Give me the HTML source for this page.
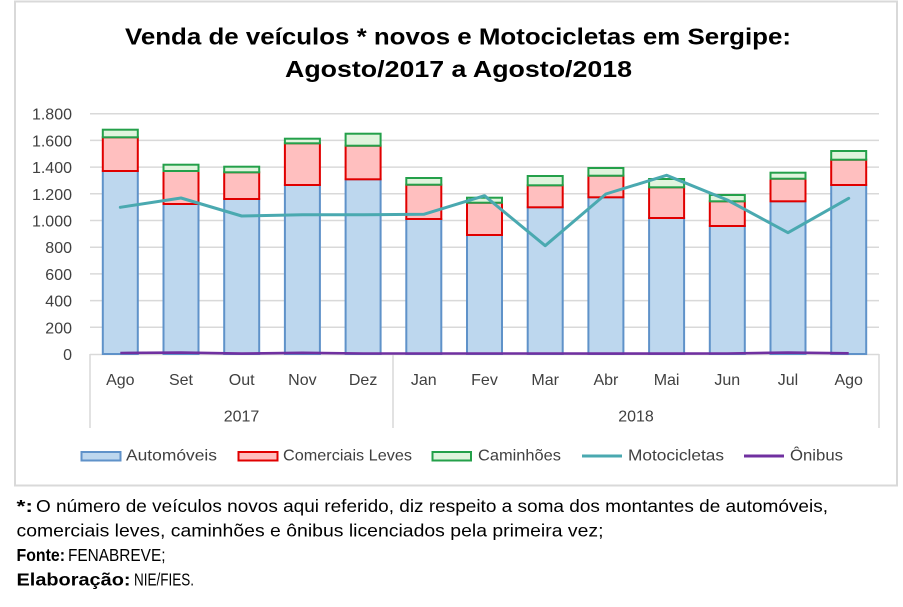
<!DOCTYPE html>
<html><head><meta charset="utf-8"><style>
html,body{margin:0;padding:0;background:#fff;}
svg{display:block;}
text{font-family:"Liberation Sans",sans-serif;}
</style></head><body>
<svg width="903" height="607" viewBox="0 0 903 607" xmlns="http://www.w3.org/2000/svg">
<rect x="0" y="0" width="903" height="607" fill="#fff"/>
<rect x="15" y="1.5" width="882" height="484" fill="#fff" stroke="#d9d9d9" stroke-width="2"/>
<text x="125" y="44.5" font-size="23" font-weight="bold" fill="#000" textLength="666" lengthAdjust="spacingAndGlyphs">Venda de veículos * novos e Motocicletas em Sergipe:</text>
<text x="285" y="77" font-size="23" font-weight="bold" fill="#000" textLength="347" lengthAdjust="spacingAndGlyphs">Agosto/2017 a Agosto/2018</text>
<g stroke="#d9d9d9" stroke-width="1.5">
<line x1="90" y1="113.7" x2="879" y2="113.7"/>
<line x1="90" y1="140.4" x2="879" y2="140.4"/>
<line x1="90" y1="167.1" x2="879" y2="167.1"/>
<line x1="90" y1="193.8" x2="879" y2="193.8"/>
<line x1="90" y1="220.5" x2="879" y2="220.5"/>
<line x1="90" y1="247.2" x2="879" y2="247.2"/>
<line x1="90" y1="273.9" x2="879" y2="273.9"/>
<line x1="90" y1="300.6" x2="879" y2="300.6"/>
<line x1="90" y1="327.3" x2="879" y2="327.3"/>
<line x1="90" y1="354.5" x2="879" y2="354.5"/>
<line x1="90" y1="354" x2="90" y2="428"/>
<line x1="393" y1="354" x2="393" y2="428"/>
<line x1="879" y1="354" x2="879" y2="428"/>
</g>
<g font-size="16" fill="#404040" text-anchor="end">
<text x="72" y="119.7">1.800</text>
<text x="72" y="146.4">1.600</text>
<text x="72" y="173.1">1.400</text>
<text x="72" y="199.8">1.200</text>
<text x="72" y="226.5">1.000</text>
<text x="72" y="253.2">800</text>
<text x="72" y="279.9">600</text>
<text x="72" y="306.6">400</text>
<text x="72" y="333.3">200</text>
<text x="72" y="360">0</text>
</g>
<g stroke-width="2">
<!-- bars: blue -->
<g fill="#bdd7ee" stroke="#5f92c9">
<rect x="102.8" y="171" width="35" height="183"/>
<rect x="163.5" y="204" width="35" height="150"/>
<rect x="224.2" y="199" width="35" height="155"/>
<rect x="284.9" y="185" width="35" height="169"/>
<rect x="345.6" y="179.3" width="35" height="174.7"/>
<rect x="406.3" y="219" width="35" height="135"/>
<rect x="467" y="235" width="35" height="119"/>
<rect x="527.7" y="207.3" width="35" height="146.7"/>
<rect x="588.4" y="197.3" width="35" height="156.7"/>
<rect x="649.1" y="218" width="35" height="136"/>
<rect x="709.8" y="226" width="35" height="128"/>
<rect x="770.5" y="201.3" width="35" height="152.7"/>
<rect x="831.2" y="185" width="35" height="169"/>
</g>
<g fill="#ffbfbf" stroke="#e00000">
<rect x="102.8" y="137.3" width="35" height="33.7"/>
<rect x="163.5" y="171" width="35" height="33"/>
<rect x="224.2" y="172.3" width="35" height="26.7"/>
<rect x="284.9" y="143.3" width="35" height="41.7"/>
<rect x="345.6" y="145.7" width="35" height="33.6"/>
<rect x="406.3" y="184.7" width="35" height="34.3"/>
<rect x="467" y="202.7" width="35" height="32.3"/>
<rect x="527.7" y="185.3" width="35" height="22"/>
<rect x="588.4" y="175.7" width="35" height="21.6"/>
<rect x="649.1" y="187.3" width="35" height="30.7"/>
<rect x="709.8" y="201.3" width="35" height="24.7"/>
<rect x="770.5" y="178.7" width="35" height="22.6"/>
<rect x="831.2" y="159.7" width="35" height="25.3"/>
</g>
<g fill="#e0f4dd" stroke="#24a04a">
<rect x="102.8" y="129.7" width="35" height="7.6"/>
<rect x="163.5" y="164.7" width="35" height="6.3"/>
<rect x="224.2" y="166.7" width="35" height="5.6"/>
<rect x="284.9" y="138.7" width="35" height="4.6"/>
<rect x="345.6" y="133.7" width="35" height="12"/>
<rect x="406.3" y="178" width="35" height="6.7"/>
<rect x="467" y="197.7" width="35" height="5"/>
<rect x="527.7" y="176" width="35" height="9.3"/>
<rect x="588.4" y="168" width="35" height="7.7"/>
<rect x="649.1" y="179" width="35" height="8.3"/>
<rect x="709.8" y="195" width="35" height="6.3"/>
<rect x="770.5" y="172.7" width="35" height="6"/>
<rect x="831.2" y="151" width="35" height="8.7"/>
</g>
</g>
<polyline fill="none" stroke="#4aa9b0" stroke-width="3" stroke-linejoin="round" stroke-linecap="round" points="120.3,207.3 181,198 241.7,216 302.4,214.7 363.1,214.7 423.8,214.3 484.5,195.7 545.2,245.7 605.9,194 666.6,175.3 727.3,200 788,232.7 848.7,198.3"/>
<polyline fill="none" stroke="#7030a0" stroke-width="2.6" stroke-linejoin="round" points="120.3,353 181,352.6 241.7,353.6 302.4,352.8 363.1,353.5 423.8,353.5 484.5,353.5 545.2,353.5 605.9,353.6 666.6,353.6 727.3,353.5 788,352.6 848.7,353.3"/>
<g font-size="16" fill="#404040" text-anchor="middle">
<text x="120.3" y="385">Ago</text>
<text x="181" y="385">Set</text>
<text x="241.7" y="385">Out</text>
<text x="302.4" y="385">Nov</text>
<text x="363.1" y="385">Dez</text>
<text x="423.8" y="385">Jan</text>
<text x="484.5" y="385">Fev</text>
<text x="545.2" y="385">Mar</text>
<text x="605.9" y="385">Abr</text>
<text x="666.6" y="385">Mai</text>
<text x="727.3" y="385">Jun</text>
<text x="788" y="385">Jul</text>
<text x="848.7" y="385">Ago</text>
<text x="241.5" y="421.5">2017</text>
<text x="636" y="421.5">2018</text>
</g>
<rect x="81.5" y="452" width="39" height="8.5" fill="#bdd7ee" stroke="#5f92c9" stroke-width="2"/>
<rect x="238.5" y="452" width="39" height="8.5" fill="#ffbfbf" stroke="#e00000" stroke-width="2"/>
<rect x="432.5" y="452" width="38.5" height="8.5" fill="#e0f4dd" stroke="#24a04a" stroke-width="2"/>
<line x1="582" y1="456" x2="622" y2="456" stroke="#4aa9b0" stroke-width="3"/>
<line x1="744" y1="456" x2="784" y2="456" stroke="#7030a0" stroke-width="3"/>
<g font-size="16" fill="#404040">
<text x="126" y="460.5" textLength="91" lengthAdjust="spacingAndGlyphs">Automóveis</text>
<text x="283" y="460.5" textLength="129" lengthAdjust="spacingAndGlyphs">Comerciais Leves</text>
<text x="478" y="460.5" textLength="83" lengthAdjust="spacingAndGlyphs">Caminhões</text>
<text x="628" y="460.5" textLength="96" lengthAdjust="spacingAndGlyphs">Motocicletas</text>
<text x="790" y="460.5" textLength="53" lengthAdjust="spacingAndGlyphs">Ônibus</text>
</g>
<g font-size="17.5" fill="#000">
<text x="16.5" y="512" font-weight="bold" textLength="16.5" lengthAdjust="spacingAndGlyphs">*:</text>
<text x="36" y="512" textLength="792" lengthAdjust="spacingAndGlyphs">O número de veículos novos aqui referido, diz respeito a soma dos montantes de automóveis,</text>
<text x="16.5" y="536.5" textLength="587" lengthAdjust="spacingAndGlyphs">comerciais leves, caminhões e ônibus licenciados pela primeira vez;</text>
<text x="16.5" y="561" font-weight="bold" textLength="48.5" lengthAdjust="spacingAndGlyphs">Fonte:</text>
<text x="68" y="561" textLength="97.5" lengthAdjust="spacingAndGlyphs">FENABREVE;</text>
<text x="16.5" y="585.5" font-weight="bold" textLength="114" lengthAdjust="spacingAndGlyphs">Elaboração:</text>
<text x="134" y="585.5" textLength="60" lengthAdjust="spacingAndGlyphs">NIE/FIES.</text>
</g>
</svg>
</body></html>
